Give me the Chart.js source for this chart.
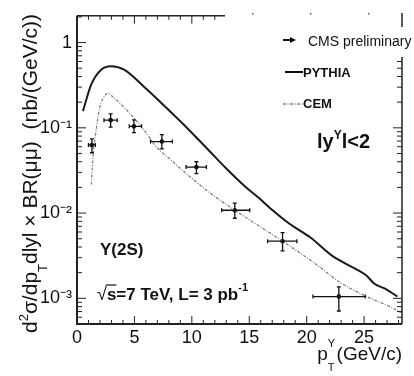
<!DOCTYPE html>
<html>
<head>
<meta charset="utf-8">
<script src="https://cdn.jsdelivr.net/npm/chart.js@4/dist/chart.umd.min.js"></script>
<style>
html,body{margin:0;padding:0;background:#fff;}
#wrap{width:414px;height:376px;position:relative;}
</style>
</head>
<body>
<div id="wrap"><canvas id="c" width="414" height="376"></canvas></div>
<script>
// ---- data ----
const cmsX    = [1.3, 2.93, 4.96, 7.39, 10.4, 13.74, 17.9, 22.8];
const cmsY    = [0.063, 0.123, 0.104, 0.069, 0.0346, 0.0108, 0.00468, 0.00105];
const cmsXLo  = [1.0, 2.35, 4.55, 6.4, 9.5, 12.6, 16.6, 20.55];
const cmsXHi  = [1.6, 3.5, 5.62, 8.3, 11.27, 15.04, 19.15, 25.1];
const cmsYLo  = [0.051, 0.102, 0.088, 0.0566, 0.029, 0.0087, 0.0036, 0.00071];
const cmsYHi  = [0.074, 0.146, 0.124, 0.083, 0.040, 0.01305, 0.0059, 0.00136];

const pythiaX = [0.52, 1.25, 2.11, 2.98, 4.1, 5.88, 7.1, 9.24, 11.28, 13.02, 14.76, 15.77, 16.8, 18.5, 20.3, 22.3, 24.3, 25.2, 25.9, 26.9, 27.9];
const pythiaY = [0.157, 0.326, 0.481, 0.528, 0.48, 0.299, 0.21, 0.111, 0.058, 0.0331, 0.0198, 0.0153, 0.0115, 0.0075, 0.0052, 0.0031, 0.0022, 0.00185, 0.00148, 0.00128, 0.00105];

const cemX = [1.25, 1.39, 1.68, 1.97, 2.26, 2.7, 3.28, 4.14, 5.3, 6.17, 6.75, 8.09, 9.83, 11.57, 13.74, 15.8, 17.9, 20.84, 22.87, 24.9, 27.4, 28.2];
const cemY = [0.0216, 0.045, 0.0975, 0.171, 0.221, 0.252, 0.221, 0.171, 0.116, 0.082, 0.0633, 0.043, 0.0267, 0.0173, 0.0108, 0.00714, 0.00468, 0.0025, 0.00155, 0.0011, 0.00078, 0.00068];

const xTicks = [0, 5, 10, 15, 20, 25];
const xTickLabels = ['0', '5', '10', '15', '20', '25'];
const yTicks = [0.001, 0.01, 0.1, 1];
const yTickLabels = ['10\u207B\u00B3', '10\u207B\u00B2', '10\u207B\u00B9', '1'];

const seriesNames = ['CMS preliminary', 'PYTHIA', 'CEM'];

const SANS = '"Liberation Sans", Arial, Helvetica, sans-serif';

function pts(xs, ys){ return xs.map((x,i)=>({x:x, y:ys[i]})); }

const decoPlugin = {
  id: 'deco',
  afterDatasetsDraw(chart){
    const ctx = chart.ctx;
    const xs = chart.scales.x, ys = chart.scales.y;
    ctx.save();
    ctx.strokeStyle = '#111';
    ctx.lineWidth = 1.3;
    for (let i=0;i<cmsX.length;i++){
      const px = xs.getPixelForValue(cmsX[i]);
      const py = ys.getPixelForValue(cmsY[i]);
      const x0 = xs.getPixelForValue(cmsXLo[i]);
      const x1 = xs.getPixelForValue(cmsXHi[i]);
      const y0 = ys.getPixelForValue(cmsYLo[i]);
      const y1 = ys.getPixelForValue(cmsYHi[i]);
      ctx.beginPath();
      ctx.moveTo(x0, py); ctx.lineTo(x1, py);
      ctx.moveTo(px, y0); ctx.lineTo(px, y1);
      ctx.moveTo(x0, py-2); ctx.lineTo(x0, py+2);
      ctx.moveTo(x1, py-2); ctx.lineTo(x1, py+2);
      ctx.moveTo(px-2, y0); ctx.lineTo(px+2, y0);
      ctx.moveTo(px-2, y1); ctx.lineTo(px+2, y1);
      ctx.stroke();
    }
    ctx.restore();
  },
  afterDraw(chart){
    const ctx = chart.ctx;
    const xs = chart.scales.x, ys = chart.scales.y;
    const a = chart.chartArea;
    ctx.save();
    ctx.strokeStyle = '#222';
    ctx.lineWidth = 2;
    ctx.beginPath();
    ctx.moveTo(a.left, a.top); ctx.lineTo(a.left, a.bottom); ctx.lineTo(a.right, a.bottom);
    ctx.stroke();
    ctx.lineWidth = 1.5;
    const rightTop = 57, topEnd = 225;
    ctx.beginPath();
    ctx.moveTo(a.right, rightTop); ctx.lineTo(a.right, a.bottom);
    ctx.moveTo(a.right, 13); ctx.lineTo(a.right, 27);
    ctx.moveTo(a.left, a.top); ctx.lineTo(topEnd, a.top);
    ctx.stroke();
    ctx.fillStyle = '#555';
    [252, 310, 368].forEach(x=>ctx.fillRect(x, 13, 1.5, 1.5));
    ctx.lineWidth = 1;
    ctx.beginPath();
    for (let e=-4;e<=0;e++){
      for (let m=1;m<=9;m++){
        const v = m*Math.pow(10,e);
        if (v < ys.min || v > ys.max) continue;
        const y = ys.getPixelForValue(v);
        const len = (m===1) ? 9 : 5;
        ctx.moveTo(a.left, y); ctx.lineTo(a.left+len, y);
        if (y >= rightTop){ ctx.moveTo(a.right, y); ctx.lineTo(a.right-len, y); }
      }
    }
    for (let i=0;i<=28;i++){
      const x = xs.getPixelForValue(i);
      const len = (i%5===0) ? 8 : 4;
      ctx.moveTo(x, a.bottom); ctx.lineTo(x, a.bottom-len);
      if (x <= topEnd){ ctx.moveTo(x, a.top); ctx.lineTo(x, a.top+len); }
    }
    ctx.stroke();

    ctx.fillStyle = '#111';
    ctx.textAlign = 'left';
    ctx.textBaseline = 'alphabetic';

    // Y axis title (rotated)
    ctx.save();
    ctx.translate(37, 333);
    ctx.rotate(-Math.PI/2);
    let cx = 0;
    const big = '21px ' + SANS, small = '13px ' + SANS;
    function piece(t, font, dy){ ctx.font = font; ctx.fillText(t, cx, dy); cx += ctx.measureText(t).width; }
    piece('d', big, 0);
    piece('2', small, -9);
    piece('\u03C3/dp', big, 0);
    piece('T', small, 10);
    piece('dlyl \u00D7 BR(\u03BC\u03BC)  (nb/(GeV/c))', big, 0);
    ctx.restore();

    // X axis title
    ctx.font = '19px ' + SANS;
    const tail = '(GeV/c)';
    const tw = ctx.measureText(tail).width;
    const tailX = a.right - tw;
    ctx.fillText(tail, tailX, 360);
    ctx.font = '11px ' + SANS;
    const supW = ctx.measureText('\u03A5').width;
    const stackX = tailX - 1.5 - supW;
    ctx.fillText('\u03A5', stackX, 347);
    ctx.fillText('T', stackX, 371);
    ctx.font = '19px ' + SANS;
    const pW = ctx.measureText('p').width;
    ctx.fillText('p', stackX - pW, 360);

    // Legend
    ctx.lineWidth = 2;
    ctx.strokeStyle = '#111';
    ctx.beginPath(); ctx.moveTo(283, 40); ctx.lineTo(291, 40); ctx.stroke();
    ctx.beginPath(); ctx.moveTo(296, 40); ctx.lineTo(290, 37); ctx.lineTo(290, 43); ctx.closePath(); ctx.fill();
    ctx.textBaseline = 'middle';
    ctx.font = '14px ' + SANS;
    ctx.fillText(seriesNames[0], 308, 42);

    ctx.beginPath(); ctx.moveTo(285, 72); ctx.lineTo(303, 72); ctx.stroke();
    ctx.font = 'bold 13px ' + SANS;
    ctx.fillText(seriesNames[1], 303, 73);

    ctx.save();
    ctx.strokeStyle = '#808080'; ctx.lineWidth = 1.3; ctx.setLineDash([3,1.5,1,1.5]);
    ctx.beginPath(); ctx.moveTo(283, 104); ctx.lineTo(303, 104); ctx.stroke();
    ctx.restore();
    ctx.font = 'bold 13px ' + SANS;
    ctx.fillText(seriesNames[2], 303, 104);

    ctx.textBaseline = 'alphabetic';
    cx = 317;
    function p2(t, font, y){ ctx.font = font; ctx.fillText(t, cx, y); cx += ctx.measureText(t).width; }
    p2('ly', 'bold 20px ' + SANS, 148);
    p2('\u03A5', 'bold 12px ' + SANS, 139);
    p2('l<2', 'bold 20px ' + SANS, 148);

    cx = 100;
    p2('\u03A5', 'bold 17px ' + SANS, 255);
    p2('(2S)', 'bold 17px ' + SANS, 255);

    cx = 97;
    p2('\u221A', '18px ' + SANS, 300);
    const sx = cx;
    p2('s', 'bold 17px ' + SANS, 300);
    ctx.lineWidth = 1.2;
    ctx.beginPath(); ctx.moveTo(sx-1, 285); ctx.lineTo(cx, 285); ctx.stroke();
    p2('=7 TeV, L= 3 pb', 'bold 17px ' + SANS, 300);
    p2('-1', 'bold 11px ' + SANS, 291);

    ctx.restore();
  }
};

const chart = new Chart(document.getElementById('c'), {
  type: 'scatter',
  data: {
    datasets: [
      { label: seriesNames[1], type: 'line', data: pts(pythiaX, pythiaY),
        borderColor: '#1a1a1a', borderWidth: 2, pointRadius: 0, fill: false,
        cubicInterpolationMode: 'monotone' },
      { label: seriesNames[2], type: 'line', data: pts(cemX, cemY),
        borderColor: '#808080', borderWidth: 1.3, borderDash: [3,1.5,1,1.5], pointRadius: 0, fill: false,
        cubicInterpolationMode: 'monotone' },
      { label: seriesNames[0], type: 'scatter', data: pts(cmsX, cmsY),
        pointRadius: 2.3, backgroundColor: '#111', borderColor: '#111', borderWidth: 0 }
    ]
  },
  options: {
    responsive: false, animation: false, devicePixelRatio: 1,
    layout: { padding: { left: 0, right: 12, top: 2, bottom: 0 } },
    plugins: { legend: { display: false }, tooltip: { enabled: false } },
    scales: {
      x: {
        type: 'linear', min: 0, max: 28.3,
        grid: { display: false, drawTicks: false }, border: { display: false },
        ticks: { padding: 3, color: '#111', font: { family: SANS, size: 18 }, maxRotation: 0, autoSkip: false,
          callback: (v) => { const i = xTicks.indexOf(v); return i >= 0 ? xTickLabels[i] : ''; } },
        afterBuildTicks: (s) => { s.ticks = xTicks.map(v => ({ value: v })); },
        afterFit: (s) => { s.height = 52; }
      },
      y: {
        type: 'logarithmic', min: 5e-4, max: 2.06,
        grid: { display: false, drawTicks: false }, border: { display: false },
        ticks: { padding: 5, color: '#111', font: { family: SANS, size: 18 }, autoSkip: false,
          callback: (v) => { const i = yTicks.findIndex(t => Math.abs(t - v) / t < 1e-6); return i >= 0 ? yTickLabels[i] : ''; } },
        afterBuildTicks: (s) => { s.ticks = yTicks.map(v => ({ value: v })); },
        afterFit: (s) => { s.width = 77; }
      }
    }
  },
  plugins: [decoPlugin]
});
</script>
</body>
</html>
